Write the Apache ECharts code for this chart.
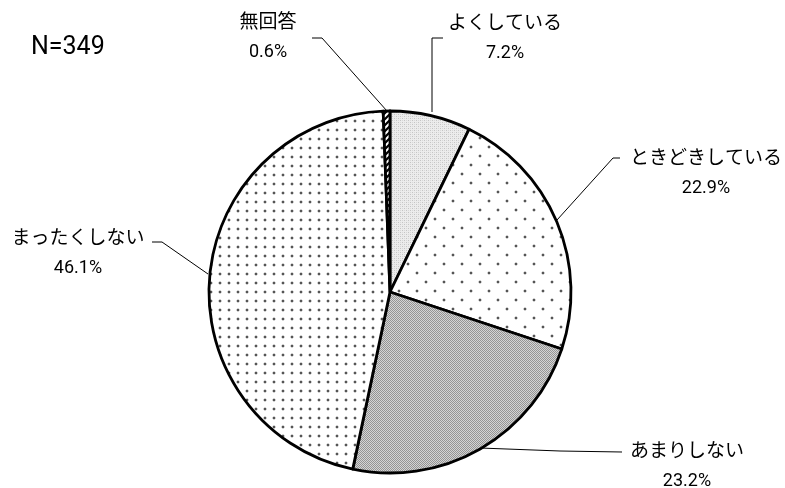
<!DOCTYPE html>
<html>
<head>
<meta charset="utf-8">
<script src="https://cdn.jsdelivr.net/npm/echarts@6/dist/echarts.min.js"></script>
<style>
  html, body { margin: 0; padding: 0; background: #fff; }
  #main { width: 785px; height: 488px; }
</style>
</head>
<body>
<div id="main"></div>
<script>
// 回答区分と割合（%）
const categories = ["よくしている", "ときどきしている", "あまりしない", "まったくしない", "無回答"];
const values = [7.2, 22.9, 23.2, 46.1, 0.6];
const sampleLabel = "N=349";

// ラベル位置（中心）と引き出し線の折れ点
const labelPos = [[505, 37], [706, 172], [687, 465], [78, 252], [268, 36]];
const linePts = [
  [[432, 112], [432, 38], [443, 38]],
  [[557, 220], [613, 158], [620, 158]],
  [[480, 448], [560, 451], [622, 452]],
  [[208, 274], [162, 242], [152, 242]],
  [[387, 111], [322, 38], [312, 38]]
];

function tile(size, draw) {
  const c = document.createElement("canvas");
  c.width = size; c.height = size;
  const ctx = c.getContext("2d");
  draw(ctx);
  return { image: c, repeat: "repeat" };
}
function dot(ctx, x, y) {
  ctx.fillStyle = "#d4d4d4";
  ctx.fillRect(x, y - 1, 2, 1); ctx.fillRect(x, y + 2, 2, 1);
  ctx.fillRect(x - 1, y, 1, 2); ctx.fillRect(x + 2, y, 1, 2);
  ctx.fillStyle = "#555";
  ctx.fillRect(x, y, 2, 2);
}

// 塗りパターン
const patterns = [
  // よくしている: 細かい薄灰
  tile(4, ctx => {
    ctx.fillStyle = "#ececec"; ctx.fillRect(0, 0, 4, 4);
    ctx.fillStyle = "#c4c4c4";
    ctx.fillRect(0, 0, 1, 1); ctx.fillRect(2, 2, 1, 1);
    ctx.fillStyle = "#d8d8d8";
    ctx.fillRect(2, 0, 1, 1); ctx.fillRect(0, 2, 1, 1);
  }),
  // ときどきしている: 疎な点（千鳥）
  tile(18, ctx => {
    ctx.fillStyle = "#fff"; ctx.fillRect(0, 0, 18, 18);
    dot(ctx, 2, 2); dot(ctx, 11, 11);
  }),
  // あまりしない: 市松
  tile(2, ctx => {
    ctx.fillStyle = "#d4d4d4"; ctx.fillRect(0, 0, 2, 2);
    ctx.fillStyle = "#949494";
    ctx.fillRect(0, 0, 1, 1); ctx.fillRect(1, 1, 1, 1);
  }),
  // まったくしない: 点
  tile(9, ctx => {
    ctx.fillStyle = "#fff"; ctx.fillRect(0, 0, 9, 9);
    dot(ctx, 3, 3);
  }),
  // 無回答: 斜線
  tile(6, ctx => {
    ctx.fillStyle = "#fff"; ctx.fillRect(0, 0, 6, 6);
    ctx.strokeStyle = "#000"; ctx.lineWidth = 2.2;
    ctx.beginPath();
    ctx.moveTo(-1, 7); ctx.lineTo(7, -1);
    ctx.moveTo(-4, 4); ctx.lineTo(4, -4);
    ctx.moveTo(2, 10); ctx.lineTo(10, 2);
    ctx.stroke();
  })
];

const chart = echarts.init(document.getElementById("main"));
chart.setOption({
  backgroundColor: "#fff",
  animation: false,
  title: {
    text: sampleLabel,
    left: 26,
    top: 30,
    textStyle: { fontFamily: "Roboto, 'Noto Sans CJK JP'", fontSize: 25, fontWeight: "normal", color: "#000" }
  },
  series: [
    {
      type: "pie",
      center: [390, 292],
      radius: 181,
      startAngle: 90,
      clockwise: true,
      avoidLabelOverlap: false,
      data: categories.map((name, i) => ({
        name: name,
        value: values[i],
        itemStyle: { color: patterns[i] }
      })),
      itemStyle: { borderColor: "#000", borderWidth: 2.8 },
      label: {
        show: true,
        position: "outside",
        formatter: "{n|{b}}\n{p|{c}%}",
        color: "#000",
        fontFamily: "'Noto Sans CJK JP', sans-serif",
        align: "center",
        rich: {
          n: { fontSize: 19, lineHeight: 32, color: "#000", fontFamily: "'Noto Sans CJK JP', sans-serif" },
          p: { fontSize: 18, lineHeight: 30, color: "#000", fontFamily: "Roboto, 'Noto Sans CJK JP', sans-serif" }
        }
      },
      labelLine: { show: true, lineStyle: { color: "#000", width: 1 } },
      labelLayout: function (params) {
        const i = params.dataIndex;
        return {
          x: labelPos[i][0],
          y: labelPos[i][1],
          align: "center",
          verticalAlign: "middle",
          labelLinePoints: linePts[i]
        };
      },
      emphasis: { disabled: true }
    }
  ]
});
window.onresize = function () {
  chart.resize();
};
</script>
</body>
</html>
